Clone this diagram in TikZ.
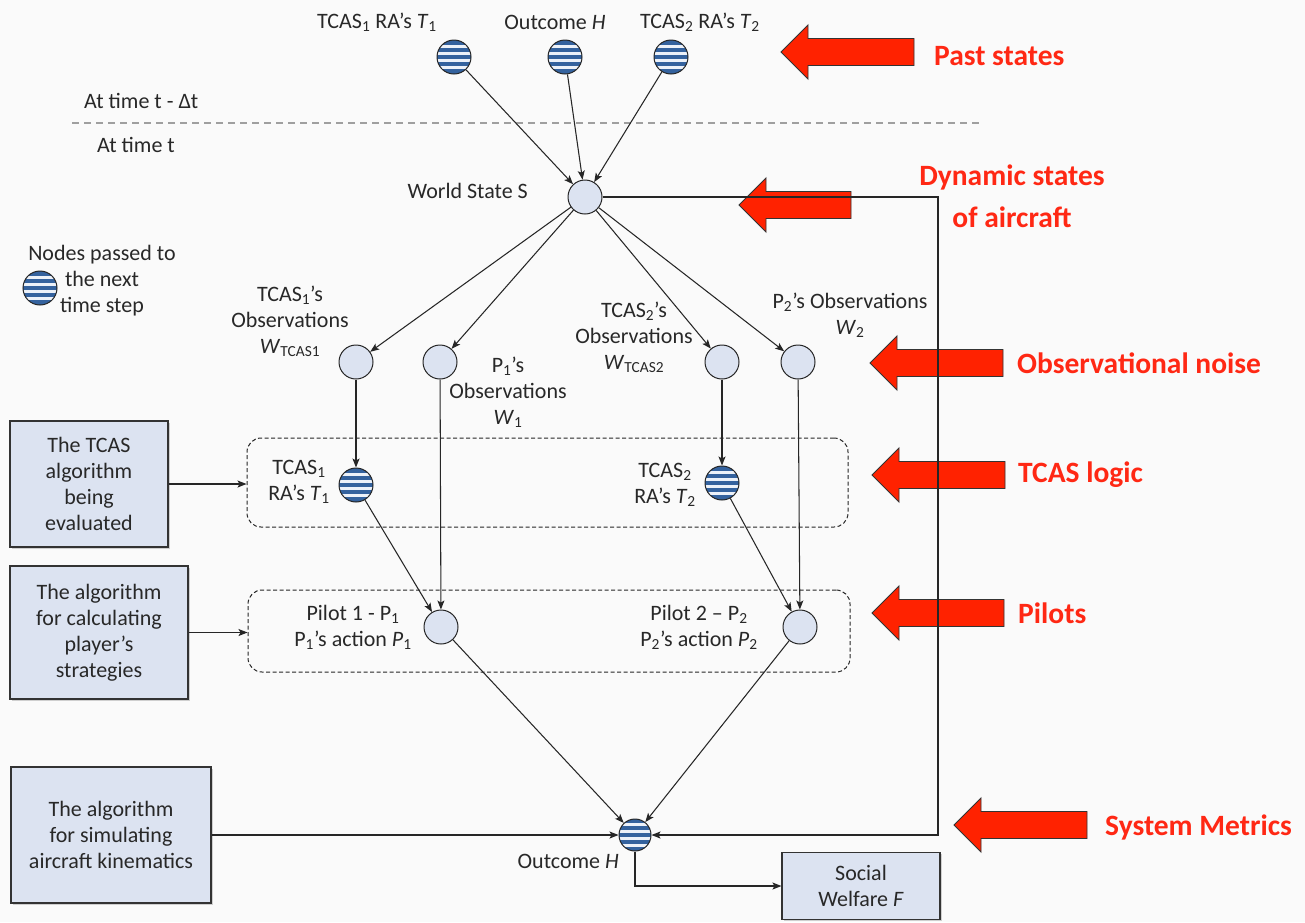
\documentclass[tikz,border=0pt]{standalone}
\usepackage{fontspec}
\setmainfont{Carlito}
\usetikzlibrary{arrows.meta,shadows}
\definecolor{bgc}{RGB}{250,250,250}
\definecolor{nodefill}{RGB}{220,227,241}
\definecolor{stripeblue}{RGB}{52,98,158}
\definecolor{stripewhite}{RGB}{236,241,249}
\definecolor{redarr}{RGB}{255,34,0}
\definecolor{redtxt}{RGB}{255,40,20}
\definecolor{txt}{RGB}{40,40,40}
\newcommand{\redarr}[3]{\draw[redarrow] (#1,#2) -- (#1+27,#2-27) -- (#1+27,#2-13.5) -- (#3,#2-13.5) -- (#3,#2+13.5) -- (#1+27,#2+13.5) -- (#1+27,#2+27) -- cycle;}
\tikzset{
  plain/.style={circle, draw=black!85, line width=1pt, fill=nodefill, minimum size=34pt, inner sep=0pt},
  striped/.style={circle, draw=black!85, line width=1pt, fill=stripeblue, minimum size=34pt, inner sep=0pt,
    path picture={\foreach \d in {-10.5,-3.5,3.5,10.5}
      \fill[stripewhite] ([shift={(-20pt,{\d*1pt-1.25pt})}]path picture bounding box.center) rectangle ++(40pt,2.5pt);}},
  lbl/.style={text=txt, align=center, inner sep=0pt},
  algbox/.style={draw=black!80, line width=1.1pt, fill=nodefill, text=txt, align=center, inner sep=0pt,
    drop shadow={shadow xshift=1.5pt, shadow yshift=-1.5pt, opacity=0.35}},
  edge/.style={-{Stealth[length=9pt,width=7pt,inset=2pt]}, line width=1.05pt, draw=black!85},
  groupbox/.style={draw=black!85, dash pattern=on 4pt off 2.5pt, rounded corners=14pt, line width=1pt, inner sep=0pt},
  redarrow/.style={fill=redarr, draw=black!80, line width=0.9pt, line join=miter},
  redlbl/.style={font=\bfseries\fontsize{29.5}{42}\selectfont, text=redtxt, inner sep=0pt, align=center}
}
\begin{document}
\begin{tikzpicture}[x=1pt, y=-1pt, font=\fontsize{22}{26}\selectfont]
\fill[bgc] (0,0) rectangle (1305,922);
\useasboundingbox (0,0) rectangle (1305,922);

% time separator
\draw[gray!75, line width=1.2pt, dash pattern=on 7pt off 5pt] (72,123) -- (980,123);
\node[lbl, anchor=west] (tprev) at (84,101) {At time t - Δt};
\node[lbl, anchor=west] (tnow) at (97,145) {At time t};

% group boxes
\node[groupbox, minimum width=601pt, minimum height=89pt] (tcasbox) at (547.5,482.5) {};
\node[groupbox, minimum width=602pt, minimum height=82pt] (pilotbox) at (549,631) {};

% top (past) nodes
\node[striped] (t1top) at (454,57) {};
\node[striped] (htop) at (565,57) {};
\node[striped] (t2top) at (671,57) {};
\node[lbl] (lt1top) at (377,22) {TCAS\textsubscript{1} RA’s \textit{T}\textsubscript{1}};
\node[lbl] (lhtop) at (555,22) {Outcome \textit{H}};
\node[lbl] (lt2top) at (700,22) {TCAS\textsubscript{2} RA’s \textit{T}\textsubscript{2}};

% world state
\node[plain] (S) at (585,197) {};
\node[lbl, anchor=east] (lS) at (528,191) {World State S};

% legend
\node[striped] (legend) at (40,288) {};
\node[lbl] (llegend) at (102,281) {Nodes passed to\\the next\\time step};

% observation nodes
\node[plain] (wt1) at (356,362) {};
\node[plain] (w1) at (440,362) {};
\node[plain] (wt2) at (722,362) {};
\node[plain] (w2) at (798,362) {};
\node[lbl] (lwt1) at (290,321) {TCAS\textsubscript{1}’s\\Observations\\\textit{W}\textsubscript{TCAS1}};
\node[lbl] (lw1) at (508,392) {P\textsubscript{1}’s\\Observations\\\textit{W}\textsubscript{1}};
\node[lbl] (lwt2) at (634,337) {TCAS\textsubscript{2}’s\\Observations\\\textit{W}\textsubscript{TCAS2}};
\node[lbl] (lw2) at (850,315) {P\textsubscript{2}’s Observations\\\textit{W}\textsubscript{2}};

% TCAS logic nodes
\node[striped] (t1) at (356,485) {};
\node[striped] (t2) at (722,483) {};
\node[lbl] (lt1) at (299,482) {TCAS\textsubscript{1}\\RA’s \textit{T}\textsubscript{1}};
\node[lbl] (lt2) at (665,485) {TCAS\textsubscript{2}\\RA’s \textit{T}\textsubscript{2}};

% pilot nodes
\node[plain] (p1) at (441,627) {};
\node[plain] (p2) at (800,627) {};
\node[lbl] (lp1) at (353,627) {Pilot 1 - P\textsubscript{1}\\P\textsubscript{1}’s action \textit{P}\textsubscript{1}};
\node[lbl] (lp2) at (699,627) {Pilot 2 – P\textsubscript{2}\\P\textsubscript{2}’s action \textit{P}\textsubscript{2}};

% outcome
\node[striped, minimum size=32pt] (H) at (635,835) {};
\node[lbl, anchor=east] (lH) at (619,861) {Outcome \textit{H}};

% algorithm boxes
\node[algbox, minimum width=158pt, minimum height=126pt] (box1) at (89,484) {The TCAS\\algorithm\\being\\evaluated};
\node[algbox, minimum width=178pt, minimum height=133pt] (box2) at (99,632.5) {The algorithm\\for calculating\\player’s\\strategies};
\node[algbox, minimum width=200pt, minimum height=136pt] (box3) at (111,835) {The algorithm\\for simulating\\aircraft kinematics};
\node[algbox, minimum width=158pt, minimum height=67pt] (social) at (861,886) {Social\\Welfare \textit{F}};

% red arrows and labels
\redarr{781}{52}{914}
\redarr{739}{205}{851}
\redarr{870}{363}{1003}
\redarr{872}{475}{1005}
\redarr{872}{613}{1004}
\redarr{954}{825}{1087}
\node[redlbl, anchor=west] (rpast) at (934,56) {Past states};
\node[redlbl] (rdyn) at (1012,196) {Dynamic states\\of aircraft};
\node[redlbl, anchor=west] (robs) at (1017,363) {Observational noise};
\node[redlbl, anchor=west] (rtcas) at (1018,475) {TCAS logic};
\node[redlbl, anchor=west] (rpil) at (1018,613) {Pilots};
\node[redlbl, anchor=west] (rsys) at (1105,827) {System Metrics};

% connectors
\draw[edge] (t1top) -- (S);
\draw[edge] (htop) -- (S);
\draw[edge] (t2top) -- (S);
\draw[edge] (S) -- (wt1);
\draw[edge] (S) -- (w1);
\draw[edge] (S) -- (wt2);
\draw[edge] (S) -- (w2);
\draw[edge] (wt1) -- (t1);
\draw[edge] (w1) -- (p1);
\draw[edge] (wt2) -- (t2);
\draw[edge] (w2) -- (p2);
\draw[edge] (t1) -- (p1);
\draw[edge] (t2) -- (p2);
\draw[edge] (p1) -- (H);
\draw[edge] (p2) -- (H);
\draw[edge] (box1.east) -- (box1.east -| tcasbox.west);
\draw[edge] (box2.east) -- (box2.east -| pilotbox.west);
\draw[edge] (box3.east) -- (H.west);
\coordinate (fbtop) at (938,197);
\coordinate (fbbot) at (938,835);
\draw[edge] (S.east) -- (fbtop) -- (fbbot) -- (H.east);
\draw[edge] (H.south) |- (social.west);
\end{tikzpicture}
\end{document}
